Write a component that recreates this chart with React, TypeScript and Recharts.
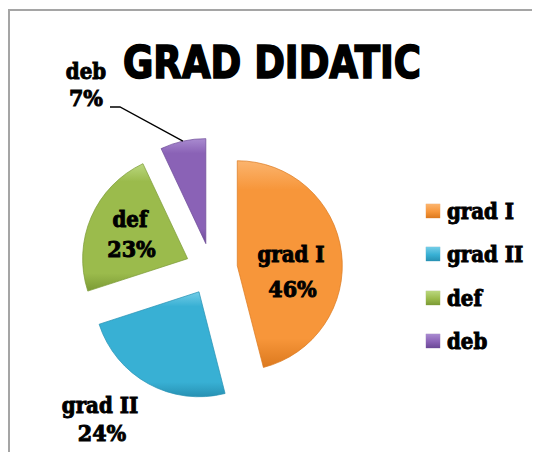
import { PieChart, Pie, Cell, Legend } from 'recharts';

const categories = ['grad I', 'grad II', 'def', 'deb'];
const values = [46, 24, 23, 7];
const colors = ['#F7963A', '#38B0D4', '#9BBB4C', '#8A62B6'];
const lightColors = ['#FBB46E', '#74CDE7', '#BAD77E', '#A98BD0'];
const darkColors = ['#DC791E', '#2791B3', '#7B9A35', '#6B4896'];

const W = 532;
const H = 444;
const CX = 203.5;
const CY = 261;
const R = 105;
const EXPLODE = 26;
const RAD = Math.PI / 180;

const LABEL_FONT = '"DejaVu Serif", serif';

const data = categories.map((name, i) => ({ name, value: values[i] }));
const total = values.reduce((a, b) => a + b, 0);

// clockwise-from-top middle angle of each slice, used to explode it
const midAngles = values.map((v, i) => {
  const before = values.slice(0, i).reduce((a, b) => a + b, 0);
  return ((before + v / 2) / total) * 360;
});

// label placement, offsets from the pie centre (two lines each)
const labelSpots: [number, number][][] = [
  [[79.5, -7], [81, 28]],
  [[-111.5, 144], [-109.5, 172]],
  [[-81.5, -42], [-80, -12]],
  [[-125.5, -190], [-125.5, -163]],
];

const heavy = { fontStretch: 'condensed', paintOrder: 'stroke' } as any;

function makeLabel(slice: number) {
  return (props: any) => {
    const { index, cx, cy, midAngle, percent, name } = props;
    if (index !== slice) return null;
    const spots = labelSpots[slice];
    const pct = `${Math.round(percent * 100)}%`;
    let leader = null;
    if (slice === 3) {
      const ox = cx + R * Math.cos(-midAngle * RAD);
      const oy = cy + R * Math.sin(-midAngle * RAD);
      const ly = CY + spots[1][1] + 1;
      const lx = CX + spots[1][0] + 24;
      leader = (
        <polyline
          points={`${ox},${oy} ${lx + 10},${ly} ${lx},${ly}`}
          fill="none"
          stroke="#000"
          strokeWidth={1.3}
        />
      );
    }
    return (
      <g>
        {leader}
        <text
          x={CX + spots[0][0]}
          y={CY + spots[0][1]}
          textAnchor="middle"
          fontFamily={LABEL_FONT}
          fontWeight="bold"
          fontSize={22}
          stroke="#000"
          strokeWidth={0.9}
          style={heavy}
          fill="#000"
        >
          {name}
        </text>
        <text
          x={CX + spots[1][0]}
          y={CY + spots[1][1]}
          textAnchor="middle"
          fontFamily={LABEL_FONT}
          fontWeight="bold"
          fontSize={23}
          stroke="#000"
          strokeWidth={0.9}
          style={heavy}
          fill="#000"
        >
          {pct}
        </text>
      </g>
    );
  };
}

const renderLegend = () => (
  <div>
    {categories.map((name, i) => (
      <div key={name} style={{ display: 'flex', alignItems: 'center', height: 43.5 }}>
        <span
          style={{
            width: 14,
            height: 14,
            marginRight: 7,
            background: `linear-gradient(180deg, ${lightColors[i]} 0%, ${colors[i]} 55%, ${darkColors[i]} 100%)`,
            boxShadow: `0 0 1px ${darkColors[i]}`,
          }}
        />
        <span
          style={{
            fontFamily: LABEL_FONT,
            fontWeight: 'bold',
            fontSize: 22,
            fontStretch: 'condensed',
            color: '#000',
            lineHeight: '22px',
            WebkitTextStroke: '0.9px #000',
          }}
        >
          {name}
        </span>
      </div>
    ))}
  </div>
);

export default function App() {
  return (
    <div style={{ position: 'relative', width: W, height: H, overflow: 'hidden', background: '#fff' }}>
      <div
        style={{
          position: 'absolute',
          left: 0,
          top: 1,
          width: 700,
          height: 700,
          border: '2px solid #A5A5A5',
          boxSizing: 'border-box',
        }}
      />
      <svg width={W} height={H} style={{ position: 'absolute', left: 0, top: 0 }}>
        <text
          x={264}
          y={70}
          textAnchor="middle"
          fontFamily='"DejaVu Sans", sans-serif'
          fontWeight="bold"
          fontSize={45}
          textLength={298}
          lengthAdjust="spacingAndGlyphs"
          stroke="#000"
          strokeWidth={1.6}
          style={heavy}
          fill="#000"
        >
          GRAD DIDATIC
        </text>
      </svg>
      <div style={{ position: 'absolute', left: 0, top: 0 }}>
        <PieChart width={W} height={H} margin={{ top: 0, right: 0, bottom: 0, left: 0 }}>
          <defs>
            {colors.map((c, i) => (
              <linearGradient key={i} id={`slice${i}`} x1="0" y1="0" x2="0" y2="1">
                <stop offset="0%" stopColor={lightColors[i]} />
                <stop offset="14%" stopColor={c} />
                <stop offset="86%" stopColor={c} />
                <stop offset="100%" stopColor={darkColors[i]} />
              </linearGradient>
            ))}
          </defs>
          {categories.map((_, s) => {
            const a = midAngles[s] * RAD;
            return (
              <Pie
                key={s}
                data={data}
                dataKey="value"
                nameKey="name"
                cx={CX + EXPLODE * Math.sin(a)}
                cy={CY - EXPLODE * Math.cos(a)}
                outerRadius={R}
                startAngle={90}
                endAngle={-270}
                isAnimationActive={false}
                legendType={s === 0 ? 'square' : 'none'}
                label={makeLabel(s)}
                labelLine={false}
                stroke="none"
              >
                {data.map((_, i) => (
                  <Cell
                    key={i}
                    fill={i === s ? `url(#slice${i})` : 'none'}
                    stroke={i === s ? darkColors[i] : 'none'}
                    strokeWidth={i === s ? 1 : 0}
                    strokeOpacity={0.7}
                  />
                ))}
              </Pie>
            );
          })}
          <Legend
            content={renderLegend}
            wrapperStyle={{ left: 418, top: 181, right: 'auto', bottom: 'auto', width: 114 }}
          />
        </PieChart>
      </div>
    </div>
  );
}
